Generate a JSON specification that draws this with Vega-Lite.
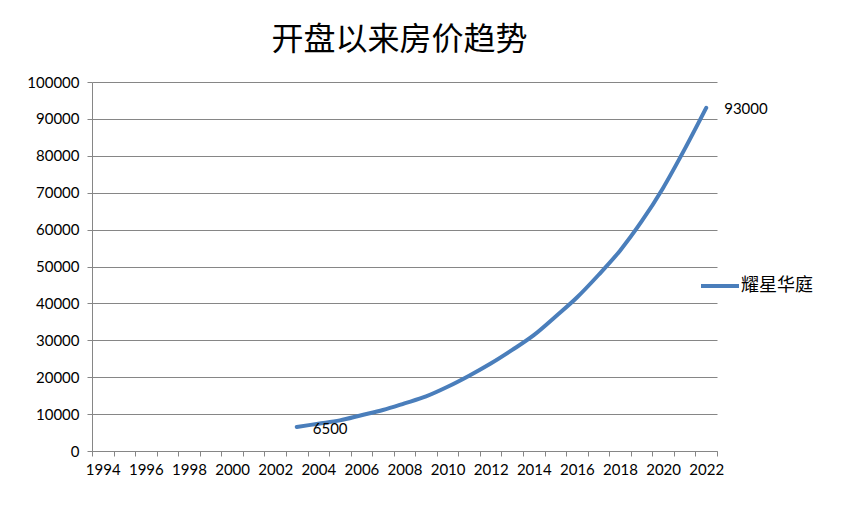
{
  "$schema": "https://vega.github.io/schema/vega-lite/v6.json",
  "width": 625,
  "height": 369,
  "autosize": "none",
  "padding": {"left": 92, "top": 82, "right": 126, "bottom": 62},
  "background": "white",
  "title": {
    "text": "开盘以来房价趋势",
    "font": "Noto Sans CJK SC",
    "fontSize": 32,
    "fontWeight": "normal",
    "color": "#000000",
    "anchor": "middle",
    "dx": -5,
    "offset": 18
  },
  "config": {
    "view": {"stroke": null},
    "font": "Lato",
    "axis": {
      "labelFont": "Lato",
      "labelFontSize": 15,
      "labelColor": "#000000",
      "domainColor": "#868686",
      "tickColor": "#868686",
      "gridColor": "#868686",
      "titleColor": "#000000"
    }
  },
  "data": {
    "values": [
      {"year": 2003, "price": 6500, "series": "耀星华庭"},
      {"year": 2004, "price": 7400, "series": "耀星华庭"},
      {"year": 2005, "price": 8300, "series": "耀星华庭"},
      {"year": 2006, "price": 9700, "series": "耀星华庭"},
      {"year": 2007, "price": 11100, "series": "耀星华庭"},
      {"year": 2008, "price": 12900, "series": "耀星华庭"},
      {"year": 2009, "price": 14800, "series": "耀星华庭"},
      {"year": 2010, "price": 17400, "series": "耀星华庭"},
      {"year": 2011, "price": 20400, "series": "耀星华庭"},
      {"year": 2012, "price": 23700, "series": "耀星华庭"},
      {"year": 2013, "price": 27400, "series": "耀星华庭"},
      {"year": 2014, "price": 31400, "series": "耀星华庭"},
      {"year": 2015, "price": 36400, "series": "耀星华庭"},
      {"year": 2016, "price": 41600, "series": "耀星华庭"},
      {"year": 2017, "price": 47700, "series": "耀星华庭"},
      {"year": 2018, "price": 54300, "series": "耀星华庭"},
      {"year": 2019, "price": 62200, "series": "耀星华庭"},
      {"year": 2020, "price": 71300, "series": "耀星华庭"},
      {"year": 2021, "price": 81800, "series": "耀星华庭"},
      {"year": 2022, "price": 93000, "series": "耀星华庭"}
    ]
  },
  "encoding": {
    "x": {
      "field": "year",
      "type": "quantitative",
      "scale": {"domain": [1993.5, 2022.5], "nice": false, "zero": false},
      "axis": {
        "title": null,
        "grid": false,
        "values": [1993.5, 1994, 1994.5, 1995, 1995.5, 1996, 1996.5, 1997, 1997.5, 1998, 1998.5, 1999, 1999.5, 2000, 2000.5, 2001, 2001.5, 2002, 2002.5, 2003, 2003.5, 2004, 2004.5, 2005, 2005.5, 2006, 2006.5, 2007, 2007.5, 2008, 2008.5, 2009, 2009.5, 2010, 2010.5, 2011, 2011.5, 2012, 2012.5, 2013, 2013.5, 2014, 2014.5, 2015, 2015.5, 2016, 2016.5, 2017, 2017.5, 2018, 2018.5, 2019, 2019.5, 2020, 2020.5, 2021, 2021.5, 2022, 2022.5],
        "labelExpr": "datum.value % 2 == 0 ? '' + datum.value : ''",
        "labelOverlap": false,
        "labelFlush": false,
        "labelPadding": 6,
        "tickSize": 5,
        "tickOpacity": {"condition": {"test": "datum.value % 1 == 0", "value": 0}, "value": 1}
      }
    },
    "y": {
      "field": "price",
      "type": "quantitative",
      "scale": {"domain": [0, 100000], "nice": false},
      "axis": {
        "title": null,
        "values": [0, 10000, 20000, 30000, 40000, 50000, 60000, 70000, 80000, 90000, 100000],
        "format": "d",
        "grid": true,
        "tickSize": 5,
        "labelPadding": 8
      }
    }
  },
  "layer": [
    {
      "mark": {"type": "line", "interpolate": "monotone", "strokeWidth": 4, "strokeCap": "round"},
      "encoding": {
        "color": {
          "field": "series",
          "type": "nominal",
          "scale": {"range": ["#4A7EBB"]},
          "legend": {
            "title": null,
            "orient": "none",
            "legendX": 607,
            "legendY": 183,
            "symbolType": "stroke",
            "symbolSize": 1444,
            "symbolStrokeWidth": 4,
            "labelFont": "Noto Sans CJK SC",
            "labelFontSize": 18,
            "labelColor": "#000000",
            "labelOffset": 0,
            "padding": 0
          }
        }
      }
    },
    {
      "transform": [{"filter": "datum.year == 2003"}],
      "mark": {"type": "text", "align": "left", "baseline": "middle", "dx": 16, "dy": 2, "font": "Lato", "fontSize": 15, "color": "#000000"},
      "encoding": {"text": {"field": "price", "type": "quantitative", "format": "d"}}
    },
    {
      "transform": [{"filter": "datum.year == 2022"}],
      "mark": {"type": "text", "align": "left", "baseline": "middle", "dx": 18, "dy": 1, "font": "Lato", "fontSize": 15, "color": "#000000"},
      "encoding": {"text": {"field": "price", "type": "quantitative", "format": "d"}}
    }
  ]
}
